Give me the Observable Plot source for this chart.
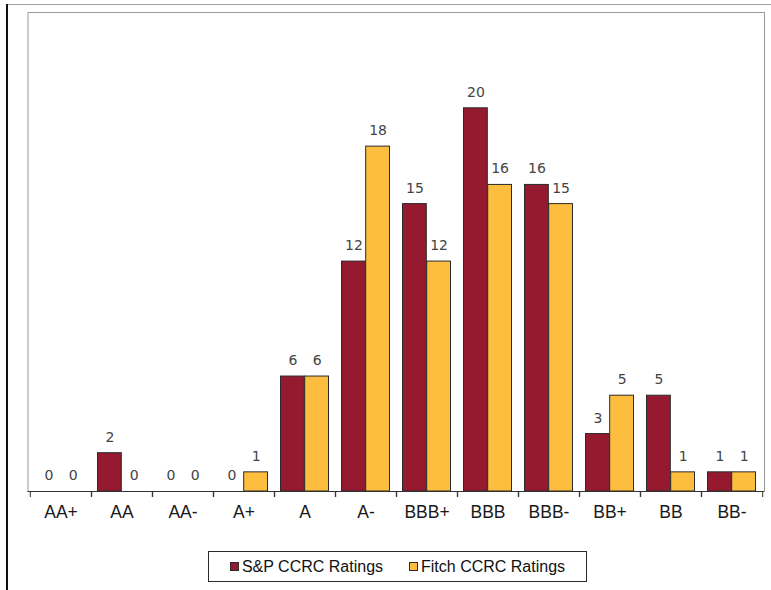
<!DOCTYPE html>
<html>
<head>
<meta charset="utf-8">
<script src="https://cdn.jsdelivr.net/npm/d3@7"></script>
<script src="https://cdn.jsdelivr.net/npm/@observablehq/plot@0.6"></script>
<style>
  html, body { margin: 0; padding: 0; background: #fff; }
  #page { position: relative; width: 771px; height: 590px; overflow: hidden; }
  #outerLeft { position: absolute; left: 6px; top: 4px; width: 2px; height: 586px; background: #111; }
  #outerTop { position: absolute; left: 6px; top: 4px; width: 765px; height: 1px; background: #a0a0a0; }
  #chart { position: absolute; left: 0; top: 0; }
  #legend {
    position: absolute; left: 208px; top: 551px; width: 377px; height: 29px;
    border: 1px solid #2a2a2a; background: #fff;
    display: flex; align-items: center; justify-content: center; gap: 26px;
    font-family: "Liberation Sans", Arial, sans-serif; font-size: 16px; color: #111;
  }
  .item { display: flex; align-items: center; gap: 3px; }
  .sw { width: 7px; height: 7px; border: 1px solid #2a2a2a; display: inline-block; }
</style>
</head>
<body>
<div id="page">
  <div id="outerTop"></div>
  <div id="outerLeft"></div>
  <div id="chart"></div>
  <div id="legend"></div>
</div>
<script>
const ratings = ["AA+","AA","AA-","A+","A","A-","BBB+","BBB","BBB-","BB+","BB","BB-"];
const spValues = [0,2,0,0,6,12,15,20,16,3,5,1];
const fitchValues = [0,0,0,1,6,18,12,16,15,5,1,1];
const seriesNames = ["S&P CCRC Ratings", "Fitch CCRC Ratings"];
const seriesColors = ["#951a30", "#fdbd3f"];

const spRows = ratings.map((r, i) => ({rating: r, value: spValues[i]}));
const fitchRows = ratings.map((r, i) => ({rating: r, value: fitchValues[i]}));

const W = 771, H = 530, mL = 27.5, mR = 7, mT = 12, mB = 39;
const step = (W - mL - mR) / ratings.length;
const outer = 6.5;
const barW = step / 2 - outer;
const off = outer + barW / 2 - step / 2;

const chart = Plot.plot({
  width: W, height: H,
  marginLeft: mL, marginRight: mR, marginTop: mT, marginBottom: mB,
  x: {domain: ratings, padding: 0, label: null},
  y: {domain: [0, 25], axis: null},
  style: {fontFamily: "Liberation Sans, Arial, sans-serif", fontSize: "17.5px", background: "transparent", overflow: "visible"},
  marks: [
    Plot.frame({stroke: "#9a9a9a"}),
    Plot.barY(spRows.filter(d => d.value > 0), {x: "rating", y: "value", fill: seriesColors[0], stroke: "#2b2b2b", strokeWidth: 1, insetLeft: outer, insetRight: step / 2}),
    Plot.barY(fitchRows.filter(d => d.value > 0), {x: "rating", y: "value", fill: seriesColors[1], stroke: "#2b2b2b", strokeWidth: 1, insetLeft: step / 2, insetRight: outer}),
    Plot.ruleY([0], {stroke: "#333"}),
    Plot.axisX({tickSize: 0, tickPadding: 14, fill: "#1a1a1a", fontSize: 17.5}),
    Plot.axisX({tickSize: 6, tickFormat: () => "", dx: -step / 2, stroke: "#333"}),
    Plot.axisX({tickSize: 6, tickFormat: () => "", dx: step / 2, stroke: "#333"}),
    Plot.text(spRows, {x: "rating", y: "value", text: d => String(d.value), dx: off, dy: -16, fontFamily: "DejaVu Sans, Verdana, sans-serif", fontSize: 14, fill: "#444"}),
    Plot.text(fitchRows, {x: "rating", y: "value", text: d => String(d.value), dx: -off, dy: -16, fontFamily: "DejaVu Sans, Verdana, sans-serif", fontSize: 14, fill: "#444"})
  ]
});
document.getElementById("chart").appendChild(chart);

const legend = document.getElementById("legend");
seriesNames.forEach((name, i) => {
  const item = document.createElement("div");
  item.className = "item";
  const sw = document.createElement("span");
  sw.className = "sw";
  sw.style.background = seriesColors[i];
  const label = document.createElement("span");
  label.textContent = name;
  item.appendChild(sw);
  item.appendChild(label);
  legend.appendChild(item);
});
</script>
</body>
</html>
